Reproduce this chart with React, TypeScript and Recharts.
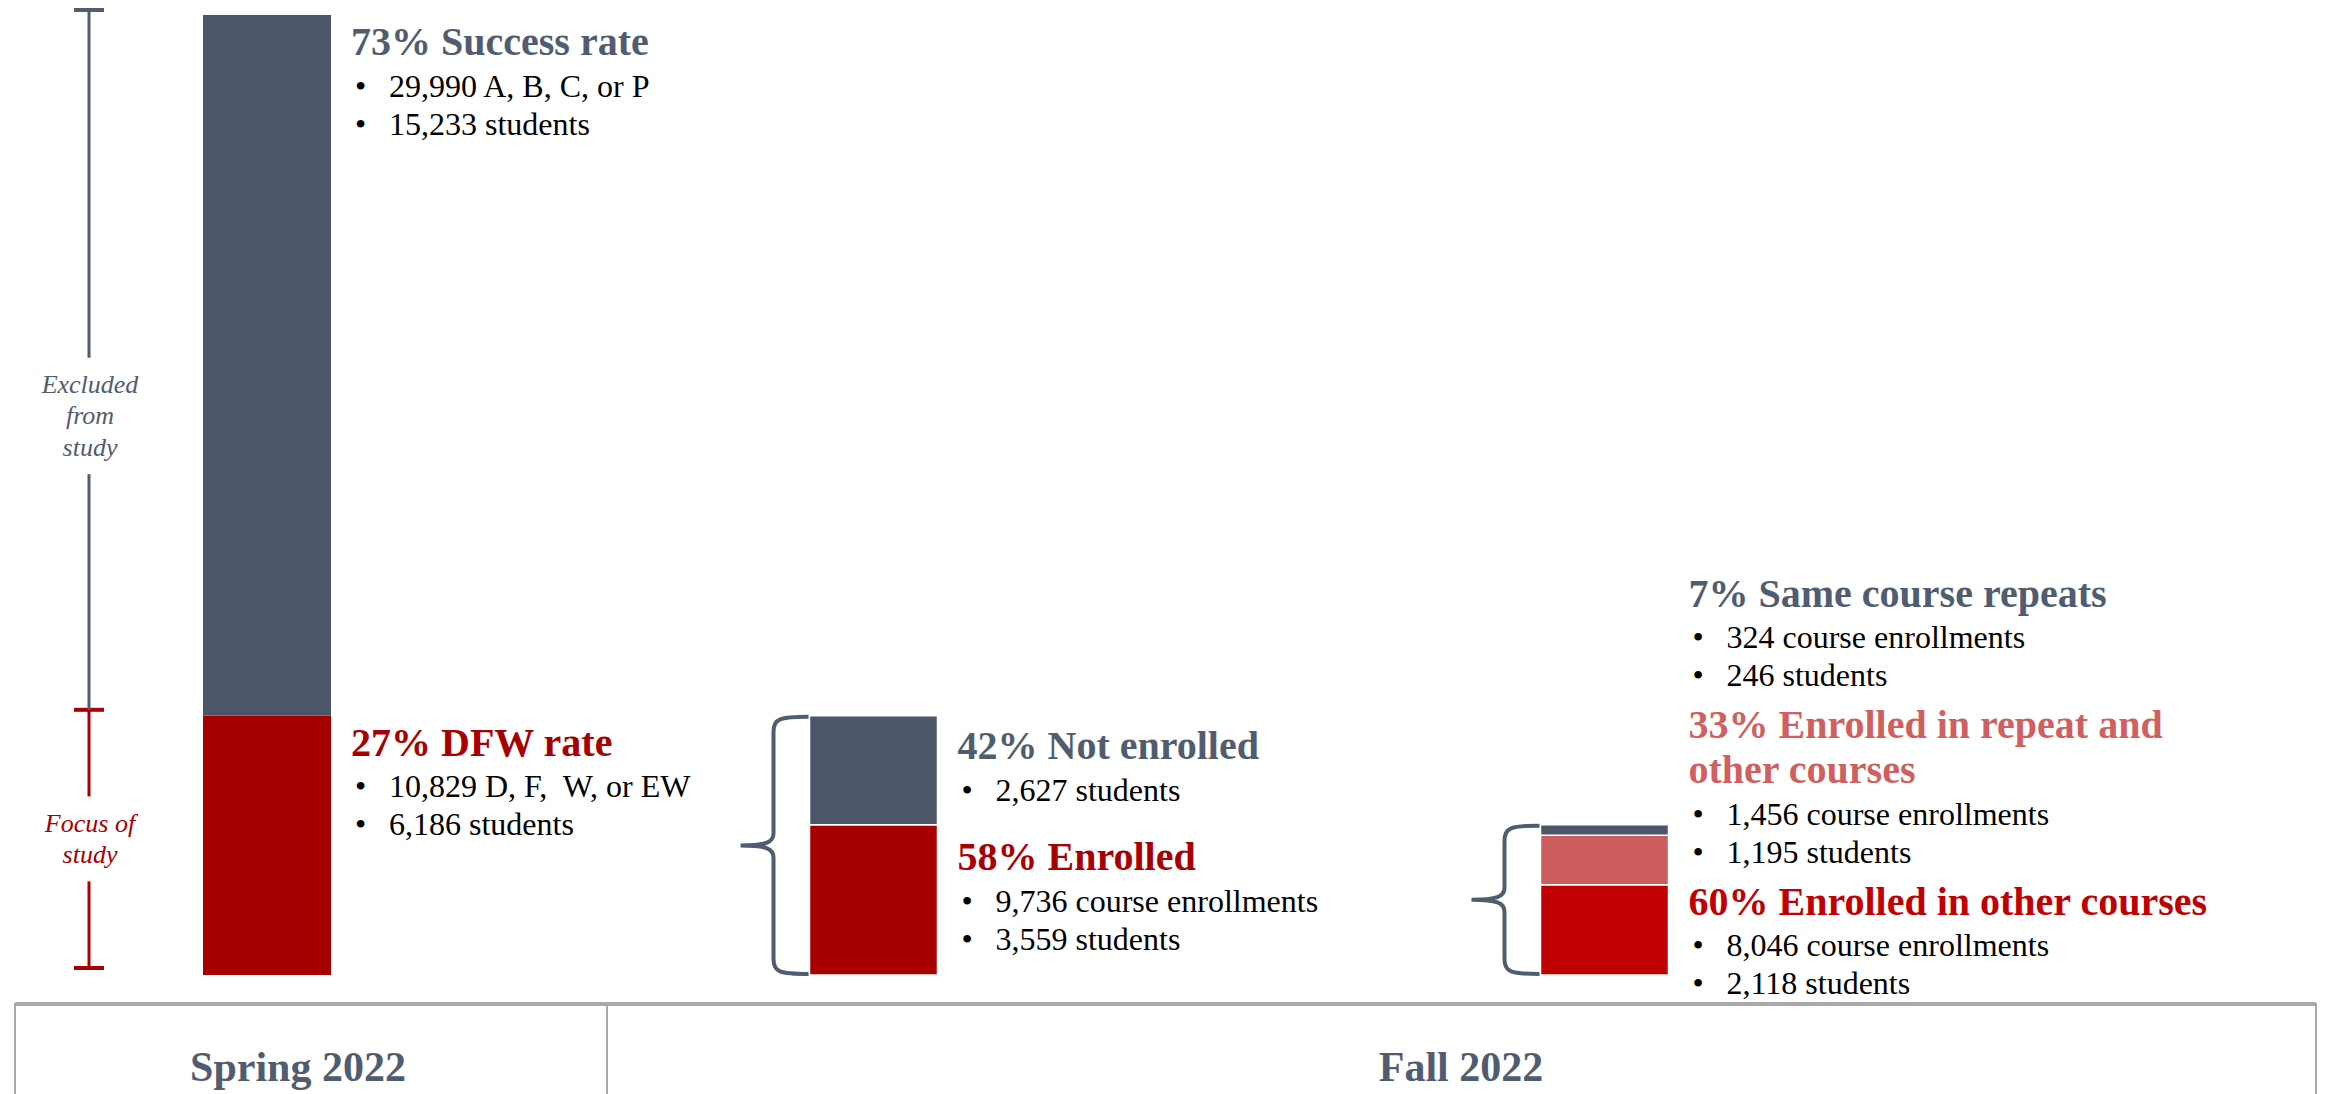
import React from "react";
import { BarChart, Bar, XAxis, YAxis, Cell, LabelList } from "recharts";

// shares printed on the slide (%)
const springShares = [73, 27]; // success, DFW
const dfwShares = [42, 58]; // not enrolled, enrolled in fall (of the DFW students)
const enrolledShares = [7, 33, 60]; // same course repeats, repeat + other, other courses only

const springTitles = ["Success rate", "DFW rate"];
const dfwTitles = ["Not enrolled", "Enrolled"];
const enrolledTitles = ["Same course repeats", "Enrolled in repeat and|other courses", "Enrolled in other courses"];

const springBullets = [
  ["29,990 A, B, C, or P", "15,233 students"],
  ["10,829 D, F,  W, or EW", "6,186 students"],
];
const dfwBullets = [["2,627 students"], ["9,736 course enrollments", "3,559 students"]];
const enrolledBullets = [
  ["324 course enrollments", "246 students"],
  ["1,456 course enrollments", "1,195 students"],
  ["8,046 course enrollments", "2,118 students"],
];

const sideNotes = ["Excluded|from|study", "Focus of|study"];
const terms = ["Spring 2022", "Fall 2022"];
const fallGroups = ["DFW students", "Enrolled in fall"];

const SLATE = "#4B5768";
const SLATE_TXT = "#505D71";
const DARK_RED = "#A80000";
const RED = "#C00000";
const PINK = "#CD5C5C";
const RULE = "#A9A9A9";
const FONT = "Liberation Serif, Times New Roman, serif";

const PAGE_W = 2331;
const PAGE_H = 1094;
const CHART_H = 1000;
const MARGIN_TOP = 15;
const MARGIN_BOTTOM = 25;
const BASE_Y = CHART_H - MARGIN_BOTTOM;
const BAR = 128;

// stacked heights, everything on the spring 100% scale
const dfwTotal = springShares[1];
const enrolledTotal = (dfwTotal * dfwShares[1]) / 100;

const springData = [{ name: terms[0], low: springShares[1], mid: springShares[0] }];
const fallData = [
  {
    name: fallGroups[0],
    low: (dfwTotal * dfwShares[1]) / 100,
    mid: (dfwTotal * dfwShares[0]) / 100,
    top: 0,
  },
  {
    name: fallGroups[1],
    low: (enrolledTotal * enrolledShares[2]) / 100,
    mid: (enrolledTotal * enrolledShares[1]) / 100,
    top: (enrolledTotal * enrolledShares[0]) / 100,
  },
];

type Block = { title: string; color: string; bullets: string[] };

const springBlocks: Block[] = [
  { title: `${springShares[0]}% ${springTitles[0]}`, color: SLATE_TXT, bullets: springBullets[0] },
  { title: `${springShares[1]}% ${springTitles[1]}`, color: DARK_RED, bullets: springBullets[1] },
];
const dfwBlocks: Block[] = [
  { title: `${dfwShares[0]}% ${dfwTitles[0]}`, color: SLATE_TXT, bullets: dfwBullets[0] },
  { title: `${dfwShares[1]}% ${dfwTitles[1]}`, color: DARK_RED, bullets: dfwBullets[1] },
];
const enrolledBlocks: Block[] = [
  { title: `${enrolledShares[0]}% ${enrolledTitles[0]}`, color: SLATE_TXT, bullets: enrolledBullets[0] },
  { title: `${enrolledShares[1]}% ${enrolledTitles[1]}`, color: "#D05F5F", bullets: enrolledBullets[1] },
  { title: `${enrolledShares[2]}% ${enrolledTitles[2]}`, color: RED, bullets: enrolledBullets[2] },
];

type Line = { text: string; dy: number; head: boolean; color: string };

function layout(blocks: Block[]): Line[] {
  const out: Line[] = [];
  let dy = 0;
  blocks.forEach((b, i) => {
    if (i > 0) dy += 52;
    b.title.split("|").forEach((t, j) => {
      if (j > 0) dy += 45;
      out.push({ text: t, dy, head: true, color: b.color });
    });
    b.bullets.forEach((t, j) => {
      dy += j === 0 ? 41.5 : 38;
      out.push({ text: t, dy, head: false, color: "#000" });
    });
  });
  return out;
}

const lastDy = (blocks: Block[]) => {
  const l = layout(blocks);
  return l[l.length - 1].dy;
};

const serif = { fontFamily: FONT, whiteSpace: "pre" as const };

function Notes({ x, y0, blocks }: { x: number; y0: number; blocks: Block[] }) {
  return (
    <g>
      {layout(blocks).map((l, i) =>
        l.head ? (
          <text key={i} x={x} y={y0 + l.dy} fill={l.color} fontSize={40} fontWeight={700} style={serif}>
            {l.text}
          </text>
        ) : (
          <g key={i}>
            <text x={x + 4} y={y0 + l.dy} fontSize={32} fill="#000" style={serif}>
              •
            </text>
            <text x={x + 38} y={y0 + l.dy} fontSize={32} fill="#000" style={serif} xmlSpace="preserve">
              {l.text}
            </text>
          </g>
        )
      )}
    </g>
  );
}

function SideBracket({ x, top, bottom, frac, text, color, bottomCap }: any) {
  const lines = text.split("|");
  const mid = top + frac * (bottom - top);
  const half = (lines.length * 31.5 + 22) / 2;
  const first = mid + 8.5 - ((lines.length - 1) * 31.5) / 2;
  return (
    <g>
      <line x1={x} x2={x} y1={top} y2={mid - half} stroke={color} strokeWidth={3} />
      <line x1={x} x2={x} y1={mid + half} y2={bottom} stroke={color} strokeWidth={3} />
      <line x1={x - 15} x2={x + 15} y1={top} y2={top} stroke={color} strokeWidth={4} />
      {bottomCap ? <line x1={x - 15} x2={x + 15} y1={bottom} y2={bottom} stroke={color} strokeWidth={4} /> : null}
      <text textAnchor="middle" fontStyle="italic" fontSize={26} fill={color} style={serif}>
        {lines.map((t: string, i: number) => (
          <tspan key={i} x={x + 1} y={first + i * 31.5}>
            {t}
          </tspan>
        ))}
      </text>
    </g>
  );
}

function Brace({ right, top, bottom }: { right: number; top: number; bottom: number }) {
  const v = right - 35;
  const tip = right - 68;
  const m = (top + bottom) / 2;
  const d = [
    `M ${right} ${top + 1}`,
    `C ${v + 6} ${top + 1} ${v} ${top + 3} ${v} ${top + 16}`,
    `L ${v} ${m - 12}`,
    `C ${v} ${m - 3} ${v - 8} ${m} ${tip} ${m}`,
    `C ${v - 8} ${m} ${v} ${m + 3} ${v} ${m + 12}`,
    `L ${v} ${bottom - 16}`,
    `C ${v} ${bottom - 3} ${v + 6} ${bottom - 1} ${right} ${bottom - 1}`,
  ].join(" ");
  return <path d={d} fill="none" stroke={SLATE_TXT} strokeWidth={4} />;
}

const box = (p: any) => p.viewBox ?? p;

const springMidLabel = (p: any) => {
  const { x, y, width, height } = box(p);
  return (
    <g>
      <SideBracket x={x - 114} top={y - 5} bottom={y + height - 6} frac={0.58} text={sideNotes[0]} color={SLATE_TXT} />
      <Notes x={x + width + 20} y0={y + 40} blocks={[springBlocks[0]]} />
    </g>
  );
};

const springLowLabel = (p: any) => {
  const { x, y, width, height } = box(p);
  return (
    <g>
      <SideBracket x={x - 114} top={y - 6} bottom={y + height - 7} frac={0.5} text={sideNotes[1]} color={DARK_RED} bottomCap />
      <Notes x={x + width + 20} y0={y + 40} blocks={[springBlocks[1]]} />
    </g>
  );
};

const centered = (x: number, y: number, height: number, block: Block) => {
  const y0 = y + height / 2 + 10 - lastDy([block]) / 2;
  return <Notes x={x} y0={y0} blocks={[block]} />;
};

// the first fall column sits left of the second one
const isFirstColumn = (x: number) => x < 1000;

const fallLowLabel = (p: any) => {
  const { x, y, width, height } = box(p);
  if (isFirstColumn(x)) return centered(x + width + 20, y, height, dfwBlocks[1]);
  const y0 = y + height + 19 - lastDy(enrolledBlocks);
  return <Notes x={x + width + 20} y0={y0} blocks={enrolledBlocks} />;
};

const fallMidLabel = (p: any) => {
  const { x, y, width, height } = box(p);
  if (!isFirstColumn(x)) return <g />;
  return (
    <g>
      <Brace right={x - 1} top={y} bottom={BASE_Y} />
      {centered(x + width + 20, y, height, dfwBlocks[0])}
    </g>
  );
};

const fallTopLabel = (p: any) => {
  const { x, y } = box(p);
  if (isFirstColumn(x)) return <g />;
  return <Brace right={x - 1} top={y} bottom={BASE_Y} />;
};

const fallColors = {
  low: [DARK_RED, RED],
  mid: [SLATE, PINK],
  top: [SLATE, SLATE],
};

export default function App() {
  return (
    <div
      style={{
        position: "absolute",
        left: 0,
        top: 0,
        width: PAGE_W,
        height: PAGE_H,
        background: "#fff",
        overflow: "hidden",
      }}
    >
      <div style={{ position: "absolute", left: 0, top: 0 }}>
        <BarChart
          width={720}
          height={CHART_H}
          data={springData}
          margin={{ top: MARGIN_TOP, right: 186, bottom: MARGIN_BOTTOM, left: 0 }}
        >
          <XAxis dataKey="name" hide />
          <YAxis hide domain={[0, 100]} />
          <Bar dataKey="low" stackId="s" fill={DARK_RED} barSize={BAR} isAnimationActive={false}>
            <LabelList dataKey="low" content={springLowLabel} />
          </Bar>
          <Bar dataKey="mid" stackId="s" fill={SLATE} barSize={BAR} isAnimationActive={false}>
            <LabelList dataKey="mid" content={springMidLabel} />
          </Bar>
        </BarChart>
      </div>

      <div style={{ position: "absolute", left: 500, top: 0 }}>
        <BarChart
          width={1831}
          height={CHART_H}
          data={fallData}
          margin={{ top: MARGIN_TOP, right: 361.5, bottom: MARGIN_BOTTOM, left: 7.5 }}
        >
          <XAxis dataKey="name" hide />
          <YAxis hide domain={[0, 100]} />
          {(["low", "mid", "top"] as const).map((k) => (
            <Bar
              key={k}
              dataKey={k}
              stackId="f"
              barSize={BAR}
              stroke="#fff"
              strokeWidth={1.5}
              isAnimationActive={false}
            >
              {fallData.map((_, i) => (
                <Cell key={i} fill={fallColors[k][i]} />
              ))}
              <LabelList
                dataKey={k}
                content={k === "low" ? fallLowLabel : k === "mid" ? fallMidLabel : fallTopLabel}
              />
            </Bar>
          ))}
        </BarChart>
      </div>

      <svg
        width={PAGE_W}
        height={PAGE_H}
        style={{ position: "absolute", left: 0, top: 0, pointerEvents: "none" }}
      >
        <line x1={15} x2={2316} y1={1004} y2={1004} stroke={RULE} strokeWidth={4} />
        <line x1={15} x2={15} y1={1003} y2={PAGE_H} stroke={RULE} strokeWidth={2} />
        <line x1={607} x2={607} y1={1003} y2={PAGE_H} stroke={RULE} strokeWidth={2} />
        <line x1={2316} x2={2316} y1={1003} y2={PAGE_H} stroke={RULE} strokeWidth={2} />
        <text x={298} y={1081} textAnchor="middle" fontWeight={700} fontSize={42} fill={SLATE_TXT} style={serif}>
          {terms[0]}
        </text>
        <text x={1461} y={1081} textAnchor="middle" fontWeight={700} fontSize={42} fill={SLATE_TXT} style={serif}>
          {terms[1]}
        </text>
      </svg>
    </div>
  );
}
